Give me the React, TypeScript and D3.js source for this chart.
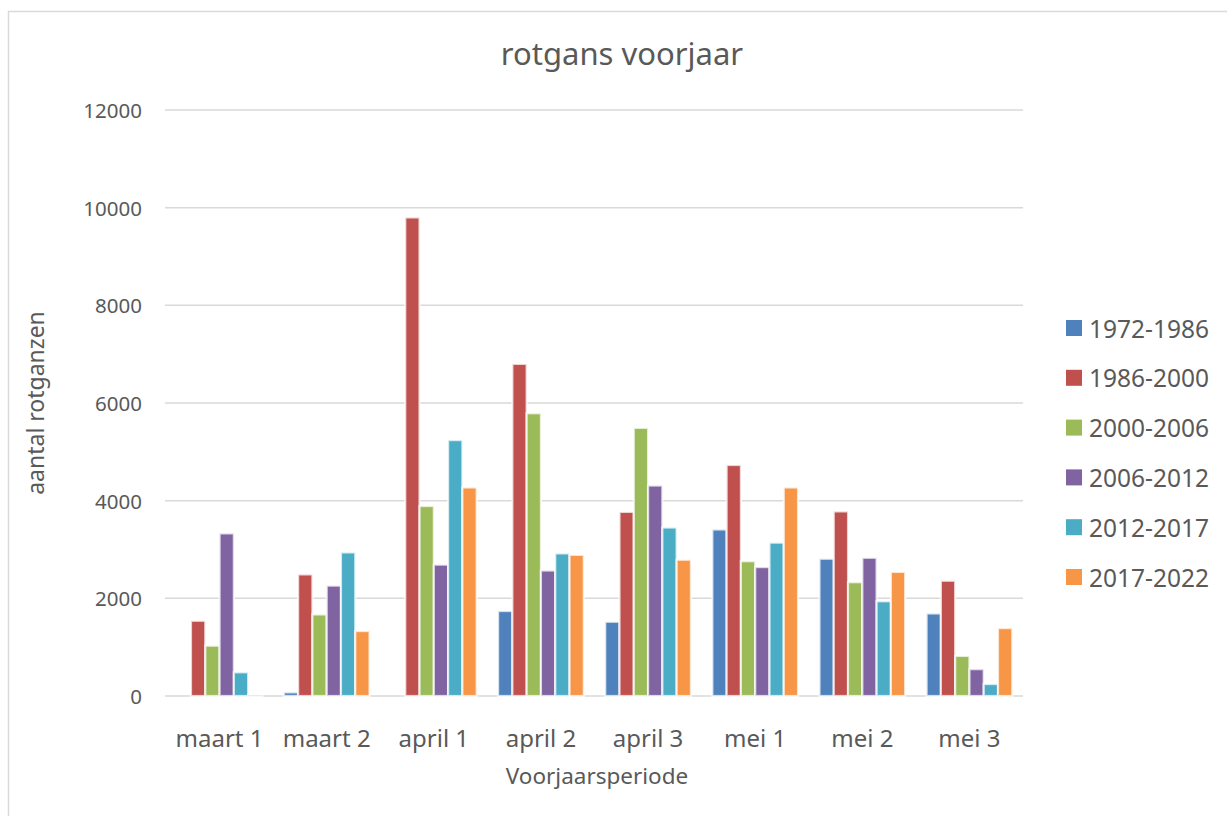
import * as d3 from 'd3';

const CATS = ['maart 1', 'maart 2', 'april 1', 'april 2', 'april 3', 'mei 1', 'mei 2', 'mei 3'];
const SERIES = ['1972-1986', '1986-2000', '2000-2006', '2006-2012', '2012-2017', '2017-2022'];
const COLORS = ['#4F81BD', '#C0504D', '#9BBB59', '#8064A2', '#4BACC6', '#F79646'];

// values per series, one per category
const S1972 = [0, 75, 0, 1740, 1520, 3410, 2810, 1690];
const S1986 = [1540, 2490, 9800, 6800, 3770, 4730, 3780, 2360];
const S2000 = [1030, 1670, 3890, 5790, 5490, 2760, 2330, 820];
const S2006 = [3330, 2260, 2690, 2570, 4310, 2640, 2830, 550];
const S2012 = [485, 2940, 5240, 2920, 3450, 3140, 1940, 245];
const S2017 = [20, 1330, 4270, 2890, 2790, 4270, 2540, 1390];
const VALUES = [S1972, S1986, S2000, S2006, S2012, S2017];
const Y_TICKS = [0, 2000, 4000, 6000, 8000, 10000, 12000];

const W = 1227, H = 816;
const M = { left: 166, right: 1023, top: 110, bottom: 696 };
const FONT = '"Noto Sans", sans-serif';
const TXT = '#595959';

export default function App() {
  const x0 = d3.scaleBand<string>().domain(CATS).range([M.left, M.right]).padding(0);
  const bw = x0.bandwidth();
  const barW = bw / 7.5;
  const gap = bw - barW * 6;
  const x1 = d3.scaleBand<string>().domain(SERIES).range([gap / 2, bw - gap / 2]).padding(0);
  const y = d3.scaleLinear().domain([0, 12000]).range([M.bottom, M.top]);

  return (
    <svg width={W} height={H} style={{ position: 'absolute', left: 0, top: 0, background: '#fff' }}>
      <rect x={8.5} y={11.5} width={1400} height={1000} fill="#fff" stroke="#d9d9d9" strokeWidth={1.5} />

      <text x={622} y={57} textAnchor="middle" dominantBaseline="middle" fontFamily={FONT} fontSize={31} fill={TXT}>
        rotgans voorjaar
      </text>

      {/* gridlines + y ticks */}
      {Y_TICKS.map(t => (
        <g key={t}>
          <line x1={M.left - 1} x2={M.right} y1={y(t)} y2={y(t)} stroke="#d9d9d9" strokeWidth={1.5} />
          <text x={142} y={y(t)} textAnchor="end" dominantBaseline="central" fontFamily={FONT} fontSize={20.5} fill={TXT}>
            {t}
          </text>
        </g>
      ))}

      {/* bars */}
      {CATS.map((c, ci) => (
        <g key={c} transform={`translate(${x0(c)},0)`}>
          {SERIES.map((s, si) => {
            const v = VALUES[si][ci];
            if (!v) return null;
            return (
              <rect
                key={s}
                x={x1(s)}
                y={y(v)}
                width={x1.bandwidth()}
                height={y(0) - y(v)}
                fill={COLORS[si]}
                stroke="#fff"
                strokeOpacity={0.75}
                strokeWidth={2.2}
              />
            );
          })}
        </g>
      ))}

      {/* category labels */}
      {CATS.map(c => (
        <text key={c} x={x0(c)! + bw / 2} y={737} textAnchor="middle" dominantBaseline="central" fontFamily={FONT} fontSize={24} fill={TXT}>
          {c}
        </text>
      ))}

      <text x={597} y={775} textAnchor="middle" dominantBaseline="central" fontFamily={FONT} fontSize={22.5} fill={TXT}>
        Voorjaarsperiode
      </text>
      <text transform={`translate(35,${(M.top + M.bottom) / 2}) rotate(-90)`} textAnchor="middle" dominantBaseline="central" fontFamily={FONT} fontSize={23} fill={TXT}>
        aantal rotganzen
      </text>

      {/* legend */}
      {SERIES.map((s, i) => (
        <g key={s} transform={`translate(1066,${328 + i * 49.8})`}>
          <rect x={0} y={-8} width={16} height={16} fill={COLORS[i]} />
          <text x={23} y={0} dominantBaseline="central" fontFamily={FONT} fontSize={24.5} fill={TXT}>
            {s}
          </text>
        </g>
      ))}
    </svg>
  );
}
